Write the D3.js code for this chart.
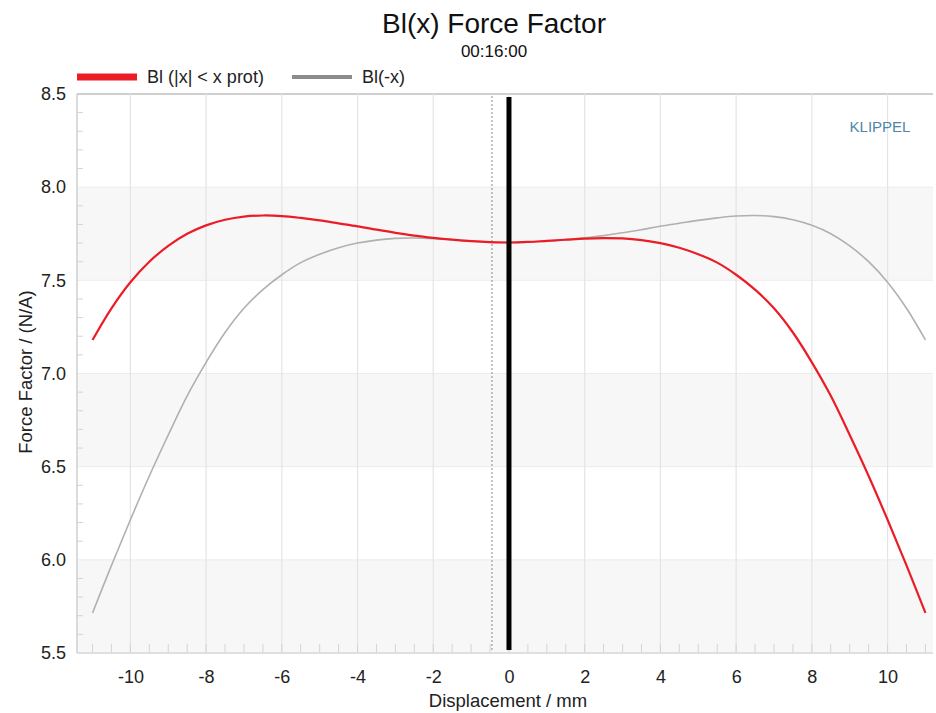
<!DOCTYPE html>
<html>
<head>
<meta charset="utf-8">
<script src="https://cdn.jsdelivr.net/npm/d3@7"></script>
<style>
  body { margin: 0; background: #fff; }
  svg { font-family: "Liberation Sans", Arial, sans-serif; }
</style>
</head>
<body>
<div id="viz"></div>
<script>
"use strict";

// displacement in mm
const displacement = [-11, -10.5, -10, -9.5, -9, -8.5, -8, -7.5, -7, -6.5, -6, -5.5, -5, -4.5, -4, -3.5, -3, -2.5, -2, -1.5, -1, -0.5,
                      0, 0.5, 1, 1.5, 2, 2.5, 3, 3.5, 4, 4.5, 5, 5.5, 6, 6.5, 7, 7.5, 8, 8.5, 9, 9.5, 10, 10.5, 11];

// Bl (|x| < x prot), N/A
const blProt = [7.18, 7.35, 7.49, 7.60, 7.685, 7.75, 7.795, 7.825, 7.842, 7.848, 7.845, 7.835, 7.822, 7.806, 7.79, 7.772, 7.755, 7.74, 7.728, 7.718, 7.71, 7.705,
                7.703, 7.706, 7.712, 7.718, 7.724, 7.727, 7.725, 7.716, 7.70, 7.675, 7.64, 7.595, 7.53, 7.45, 7.35, 7.22, 7.06, 6.88, 6.67, 6.45, 6.215, 5.97, 5.715];

// Bl(-x), N/A
const blMirror = [5.715, 5.97, 6.215, 6.45, 6.67, 6.88, 7.06, 7.22, 7.35, 7.45, 7.53, 7.595, 7.64, 7.675, 7.70, 7.716, 7.725, 7.727, 7.724, 7.718, 7.712, 7.706,
                  7.703, 7.705, 7.71, 7.718, 7.728, 7.74, 7.755, 7.772, 7.79, 7.806, 7.822, 7.835, 7.845, 7.848, 7.842, 7.825, 7.795, 7.75, 7.685, 7.60, 7.49, 7.35, 7.18];

const xTicks = [-10, -8, -6, -4, -2, 0, 2, 4, 6, 8, 10];
const yTicks = [5.5, 6.0, 6.5, 7.0, 7.5, 8.0, 8.5];
const shadedBands = [[5.5, 6.0], [6.5, 7.0], [7.5, 8.0]];
const seriesNames = ["Bl (|x| < x prot)", "Bl(-x)"];
const cursorX = 0;
const markerX = -0.45;

const width = 936, height = 713;
const pLeft = 77, pRight = 933, pTop = 94, pBottom = 653;

const svg = d3.select("#viz").append("svg")
  .attr("width", width)
  .attr("height", height);

const x = d3.scaleLinear().domain([-11.41, 11.2]).range([pLeft, pRight]);
const y = d3.scaleLinear().domain([5.5, 8.5]).range([pBottom, pTop]);

// shaded bands
svg.selectAll("rect.band")
  .data(shadedBands)
  .enter().append("rect")
  .attr("class", "band")
  .attr("x", pLeft)
  .attr("width", pRight - pLeft)
  .attr("y", d => y(d[1]))
  .attr("height", d => y(d[0]) - y(d[1]))
  .attr("fill", "#f7f7f7");

// horizontal grid
svg.selectAll("line.hgrid")
  .data(d3.range(5.5, 8.51, 0.5))
  .enter().append("line")
  .attr("x1", pLeft).attr("x2", pRight)
  .attr("y1", d => y(d)).attr("y2", d => y(d))
  .attr("stroke", d => d === 8.5 ? "#cfcfcf" : "#ececec")
  .attr("stroke-width", d => d === 8.5 ? 2 : 1);

// vertical grid
svg.selectAll("line.vgrid")
  .data(xTicks)
  .enter().append("line")
  .attr("x1", d => x(d)).attr("x2", d => x(d))
  .attr("y1", pTop).attr("y2", pBottom)
  .attr("stroke", "#e4e4e4")
  .attr("stroke-width", 1.2);

// minor ticks
svg.selectAll("line.xminor")
  .data(d3.range(-11, 11.01, 0.5))
  .enter().append("line")
  .attr("x1", d => x(d)).attr("x2", d => x(d))
  .attr("y1", pBottom).attr("y2", pBottom - 9)
  .attr("stroke", "#d4d4d4");

svg.selectAll("line.yminor")
  .data(d3.range(5.6, 8.45, 0.1).filter(v => Math.abs(v * 2 - Math.round(v * 2)) > 0.01))
  .enter().append("line")
  .attr("x1", pLeft).attr("x2", pLeft + 6)
  .attr("y1", d => y(d)).attr("y2", d => y(d))
  .attr("stroke", "#d4d4d4");

// axis lines
svg.append("line")
  .attr("x1", pLeft).attr("x2", pLeft).attr("y1", pTop).attr("y2", pBottom)
  .attr("stroke", "#cfcfcf").attr("stroke-width", 1.5);
svg.append("line")
  .attr("x1", pLeft).attr("x2", pRight).attr("y1", pBottom).attr("y2", pBottom)
  .attr("stroke", "#d8d8d8").attr("stroke-width", 1.5);

// tick labels
const xAxis = svg.append("g")
  .attr("transform", `translate(0,${pBottom})`)
  .call(d3.axisBottom(x).tickValues(xTicks).tickFormat(d => String(d)).tickSize(0).tickPadding(17));
xAxis.select(".domain").remove();
xAxis.selectAll("text").attr("font-size", 18).attr("fill", "#222")
  .attr("font-family", "Liberation Sans, Arial, sans-serif");

const yAxis = svg.append("g")
  .attr("transform", `translate(${pLeft},0)`)
  .call(d3.axisLeft(y).tickValues(yTicks).tickFormat(d3.format(".1f")).tickSize(0).tickPadding(11));
yAxis.select(".domain").remove();
yAxis.selectAll("text").attr("font-size", 18).attr("fill", "#222")
  .attr("font-family", "Liberation Sans, Arial, sans-serif");

// marker lines
svg.append("line")
  .attr("x1", x(markerX)).attr("x2", x(markerX))
  .attr("y1", pTop + 2).attr("y2", pBottom - 2)
  .attr("stroke", "#8a8a8a").attr("stroke-dasharray", "2,2");

// curves
const line = d3.line()
  .x((d, i) => x(displacement[i]))
  .y(d => y(d))
  .curve(d3.curveCatmullRom);

svg.append("path")
  .datum(blMirror)
  .attr("d", line)
  .attr("fill", "none")
  .attr("stroke", "#b0b0b0")
  .attr("stroke-width", 1.6);

svg.append("path")
  .datum(blProt)
  .attr("d", line)
  .attr("fill", "none")
  .attr("stroke", "#ec1c27")
  .attr("stroke-width", 2.2);

svg.append("line")
  .attr("x1", x(cursorX)).attr("x2", x(cursorX))
  .attr("y1", pTop + 3).attr("y2", pBottom - 3)
  .attr("stroke", "#000").attr("stroke-width", 5);

// titles
svg.append("text")
  .attr("x", 494).attr("y", 33)
  .attr("text-anchor", "middle")
  .attr("font-size", 28)
  .attr("fill", "#111")
  .text("Bl(x) Force Factor");

svg.append("text")
  .attr("x", 494).attr("y", 57)
  .attr("text-anchor", "middle")
  .attr("font-size", 17)
  .attr("fill", "#111")
  .text("00:16:00");

svg.append("text")
  .attr("x", 508).attr("y", 707)
  .attr("text-anchor", "middle")
  .attr("font-size", 18.5)
  .attr("fill", "#222")
  .text("Displacement / mm");

svg.append("text")
  .attr("transform", `translate(32,372) rotate(-90)`)
  .attr("text-anchor", "middle")
  .attr("font-size", 18.5)
  .attr("fill", "#222")
  .text("Force Factor / (N/A)");

svg.append("text")
  .attr("x", 880).attr("y", 132)
  .attr("text-anchor", "middle")
  .attr("font-size", 15)
  .attr("fill", "#4f86a8")
  .text("KLIPPEL");

// legend
const legend = [
  { name: seriesNames[0], color: "#ec1c27", w: 7, x0: 77 },
  { name: seriesNames[1], color: "#8c8c8c", w: 4, x0: 292 }
];
const lg = svg.selectAll("g.legend")
  .data(legend)
  .enter().append("g")
  .attr("transform", d => `translate(${d.x0},77)`);
lg.append("line")
  .attr("x1", 0).attr("x2", 60)
  .attr("stroke", d => d.color)
  .attr("stroke-width", d => d.w);
lg.append("text")
  .attr("x", 70).attr("y", 6)
  .attr("font-size", 18)
  .attr("fill", "#222")
  .text(d => d.name);
</script>
</body>
</html>
